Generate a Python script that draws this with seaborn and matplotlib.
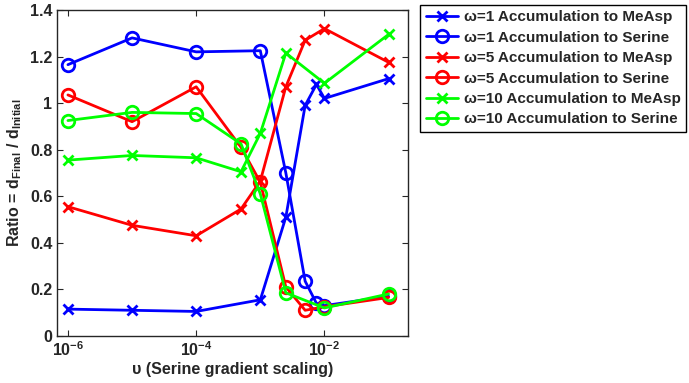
import numpy as np
import pandas as pd
import matplotlib
matplotlib.use("Agg")
import matplotlib.pyplot as plt
import seaborn as sns

# serine gradient scaling values
x_w1 = [1e-6, 1e-5, 1e-4, 1e-3, 2.5e-3, 5e-3, 7.5e-3, 1e-2, 1e-1]
x_w5 = [1e-6, 1e-5, 1e-4, 5e-4, 1e-3, 2.5e-3, 5e-3, 1e-2, 1e-1]
x_w10 = [1e-6, 1e-5, 1e-4, 5e-4, 1e-3, 2.5e-3, 1e-2, 1e-1]

w1_measp = [0.115, 0.11, 0.105, 0.155, 0.51, 0.99, 1.08, 1.02, 1.105]
w1_serine = [1.165, 1.28, 1.22, 1.225, 0.70, 0.235, 0.14, 0.13, 0.17]
w5_measp = [0.555, 0.475, 0.43, 0.545, 0.665, 1.07, 1.27, 1.32, 1.175]
w5_serine = [1.035, 0.92, 1.07, 0.81, 0.66, 0.21, 0.11, 0.125, 0.165]
w10_measp = [0.755, 0.775, 0.765, 0.705, 0.87, 1.215, 1.085, 1.295]
w10_serine = [0.925, 0.96, 0.955, 0.825, 0.61, 0.185, 0.12, 0.18]

sns.set_style("ticks")
plt.rcParams['font.family'] = ['Liberation Sans', 'DejaVu Sans']
plt.rcParams['font.weight'] = 'bold'
plt.rcParams['mathtext.fontset'] = 'custom'
plt.rcParams['mathtext.rm'] = 'Liberation Sans:bold'
plt.rcParams['mathtext.bf'] = 'Liberation Sans:bold'
plt.rcParams['mathtext.it'] = 'Liberation Sans:bold'
plt.rcParams['mathtext.default'] = 'rm'

fig = plt.figure(figsize=(6.89, 3.83), dpi=100)
ax = fig.add_axes([0.083, 0.123, 0.509, 0.851])

series = [
    (x_w1, w1_measp, 'x', (0, 0, 1), '\u03c9=1 Accumulation to MeAsp'),
    (x_w1, w1_serine, 'o', (0, 0, 1), '\u03c9=1 Accumulation to Serine'),
    (x_w5, w5_measp, 'x', (1, 0, 0), '\u03c9=5 Accumulation to MeAsp'),
    (x_w5, w5_serine, 'o', (1, 0, 0), '\u03c9=5 Accumulation to Serine'),
    (x_w10, w10_measp, 'x', (0, 1, 0), '\u03c9=10 Accumulation to MeAsp'),
    (x_w10, w10_serine, 'o', (0, 1, 0), '\u03c9=10 Accumulation to Serine'),
]

for xs, ys, mk, col, lab in series:
    df = pd.DataFrame({'x': xs, 'y': ys})
    if mk == 'o':
        sns.lineplot(data=df, x='x', y='y', ax=ax, color=col, lw=2, marker='o',
                     markersize=9, markerfacecolor='none', markeredgecolor=col,
                     markeredgewidth=2, label=lab)
    else:
        sns.lineplot(data=df, x='x', y='y', ax=ax, color=col, lw=2, marker='x',
                     markersize=7, markeredgewidth=2, markeredgecolor=col, label=lab)

ax.set_xscale('log')
ax.set_xlim(6.8e-7, 0.2)
ax.set_ylim(0, 1.4)
ax.set_xticks([1e-6, 1e-4, 1e-2])
ax.xaxis.set_minor_locator(matplotlib.ticker.NullLocator())
ax.set_yticks(np.arange(0, 1.41, 0.2))
ax.set_yticklabels(['0', '0.2', '0.4', '0.6', '0.8', '1', '1.2', '1.4'])
ax.tick_params(direction='in', top=True, right=True, labelsize=11.5, length=4)
for s in ax.spines.values():
    s.set_linewidth(1)
    s.set_visible(True)

ax.set_xlabel('\u03c5 (Serine gradient scaling)', fontsize=11.5, fontweight='bold', labelpad=2)
ax.set_ylabel(r'Ratio = d$_{Final}$ / d$_{Initial}$', fontsize=11.5, fontweight='bold', labelpad=4)

handles, labels = ax.get_legend_handles_labels()
ax.get_legend().remove()
leg = fig.legend(handles, labels, loc='upper left', bbox_to_anchor=(0.61, 0.987),
                 borderaxespad=0, fancybox=False, edgecolor='black', fontsize=11,
                 handlelength=2.1, handletextpad=0.4, borderpad=0.35,
                 labelspacing=0.42, framealpha=1)
leg.get_frame().set_linewidth(1)

fig.savefig('out.png', dpi=100)
